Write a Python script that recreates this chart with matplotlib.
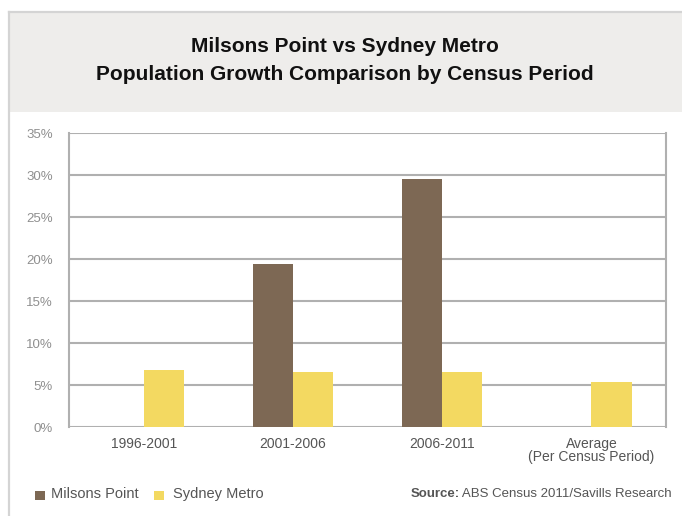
import numpy as np
import matplotlib
matplotlib.use("Agg")
import matplotlib.pyplot as plt
from matplotlib.patches import Rectangle
from matplotlib.lines import Line2D

# data
periods = ["1996-2001", "2001-2006", "2006-2011", "Average\n(Per Census Period)"]
milsons_point = [0.0, 19.5, 29.6, 0.0]
sydney_metro = [6.85, 6.6, 6.6, 5.4]
yticks = [0, 5, 10, 15, 20, 25, 30, 35]

BROWN = "#7d6854"
YELLOW = "#f3d961"
GRID = "#b0b0b0"

plt.rcParams['font.family'] = ['Liberation Sans', 'DejaVu Sans']

fig = plt.figure(figsize=(6.82, 5.16), dpi=100)
W, H = 682, 516

# outer frame + grey title panel
fig.patches.append(Rectangle((8 / W, 1 - 112 / H), 1 - 8 / W, 100 / H, transform=fig.transFigure,
                             facecolor="#eeedeb", edgecolor="none", zorder=0))
fig.lines.append(Line2D([8.5 / W, 8.5 / W], [0, 1 - 12 / H], transform=fig.transFigure, color="#d4d4d4", lw=1.6))
fig.lines.append(Line2D([8.5 / W, 1], [1 - 12 / H, 1 - 12 / H], transform=fig.transFigure, color="#d4d4d4", lw=1.6))

fig.text(345 / W, 1 - 47 / H, "Milsons Point vs Sydney Metro", ha="center", va="center",
         fontsize=15, fontweight="bold", color="#111111")
fig.text(345 / W, 1 - 75 / H, "Population Growth Comparison by Census Period", ha="center", va="center",
         fontsize=15, fontweight="bold", color="#111111")

ax = fig.add_axes([69 / W, 1 - 427.3 / H, (666 - 69) / W, (427.3 - 133.3) / H])
x = np.arange(len(periods))
w = 0.27
ax.bar(x - w / 2, milsons_point, w, color=BROWN, zorder=3)
ax.bar(x + w / 2, sydney_metro, w, color=YELLOW, zorder=3)

ax.set_xlim(-0.5, len(periods) - 0.5)
ax.set_ylim(0, 35)
ax.set_yticks(yticks)
ax.set_yticklabels([str(t) + "%" for t in yticks], color="#8f8f8f", fontsize=9.5)
ax.set_xticks(x)
ax.set_xticklabels(periods, color="#555555", fontsize=10, linespacing=0.95)
ax.tick_params(axis="both", length=0)
ax.tick_params(axis="y", pad=11.5)
ax.tick_params(axis="x", pad=7)
ax.yaxis.grid(True, color=GRID, lw=1.5, zorder=1)
for s in ["top", "bottom"]:
    ax.spines[s].set_visible(False)
for s in ["left", "right"]:
    ax.spines[s].set_color(GRID)
    ax.spines[s].set_linewidth(1.5)

# legend along the bottom
fig.patches.append(Rectangle((35 / W, 1 - 500 / H), 9.5 / W, 9.5 / H, transform=fig.transFigure,
                             facecolor=BROWN, edgecolor="none"))
fig.text(51 / W, 1 - 494 / H, "Milsons Point", ha="left", va="center", fontsize=10.5, color="#555555")
fig.patches.append(Rectangle((154 / W, 1 - 500 / H), 9.5 / W, 9.5 / H, transform=fig.transFigure,
                             facecolor=YELLOW, edgecolor="none"))
fig.text(173 / W, 1 - 494 / H, "Sydney Metro", ha="left", va="center", fontsize=10.5, color="#555555")

src = fig.text(672 / W, 1 - 494 / H, " ABS Census 2011/Savills Research", ha="right", va="center",
               fontsize=9.5, color="#555555")
fig.canvas.draw()
r = src.get_window_extent()
fig.text(r.x0 / W, 1 - 494 / H, "Source:", ha="right", va="center",
         fontsize=9.5, fontweight="bold", color="#555555")

fig.savefig("out.png", dpi=100)
